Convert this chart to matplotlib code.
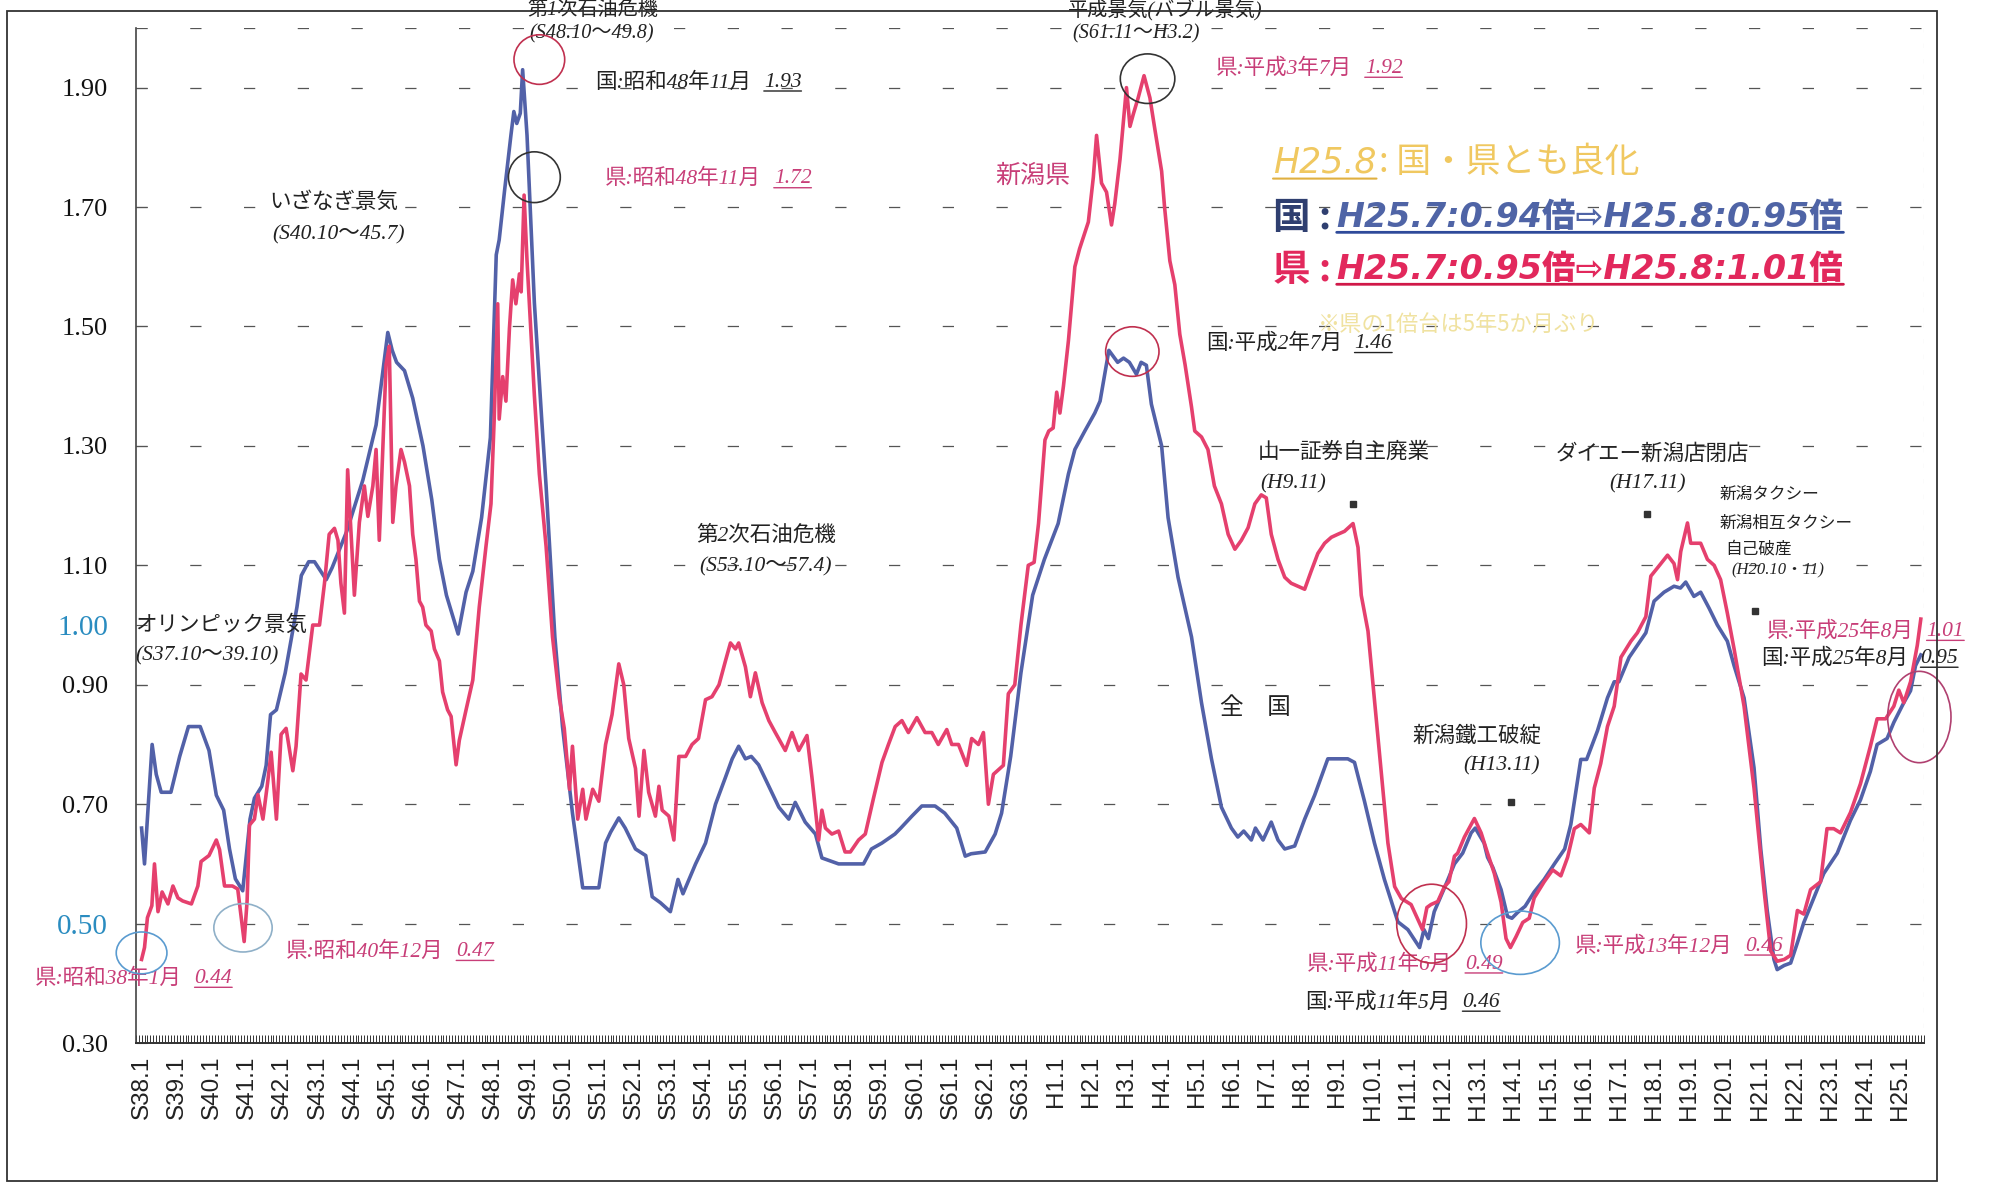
import matplotlib
matplotlib.use("Agg")
import matplotlib.pyplot as plt
from matplotlib.patches import Ellipse, Rectangle
from matplotlib.ticker import MultipleLocator

plt.rcParams['font.family'] = ['Liberation Serif', 'Noto Sans CJK JP']

# ---------------- data (x = months since S38.1 = Jan 1963) ----------------
nat_month = [0, 1, 3.6, 5, 6.7, 10, 13, 16, 20, 23, 25.5, 28, 30, 32, 34.5, 37, 38.5, 41, 42.5, 44,
             46, 49, 53, 54.5, 57, 59, 63, 65, 70, 75.5, 80, 84, 85.5, 87, 89.7, 92.5, 96, 99, 101.6, 104,
             108, 110.7, 113, 116, 119, 121, 122, 123.8, 126, 127, 128, 129.2, 130, 131.5, 134, 136.5, 138, 141, 143.6, 147,
             150.5, 156, 158.3, 160, 162.8, 165, 168.5, 172, 174.2, 177, 180.4, 183, 184.7, 189, 192.4, 195.8, 199.2, 201.5, 203.7, 206,
             208, 210.5, 214, 217.4, 220.8, 223, 226.4, 229.9, 232.1, 237.8, 242.3, 246.3, 249, 252.6, 257, 259, 262.8, 266.2, 270.7, 274,
             278.1, 281, 283, 287.8, 291.2, 293.4, 296.5, 300, 304, 308, 312.7, 316.2, 318.4, 321.8, 325.2, 327, 330, 331.5, 333, 335,
             337, 339.4, 341, 342.8, 344.5, 348, 350.2, 353.6, 358.2, 361.6, 365, 368.4, 371.8, 374, 376, 378.6, 380, 382.6, 385.4, 387.7,
             390, 393.4, 396.8, 400.2, 404.7, 411.5, 413.8, 417.2, 420.6, 424, 428.6, 432, 434, 436, 437.5, 439, 441, 444.5, 447.9, 450.7,
             453.6, 455, 458, 459.2, 461, 463.8, 466, 467.5, 469.5, 472, 475.1, 478.5, 482, 485.5, 487.6, 491, 493, 496.7, 500.1, 502.4,
             504, 507.5, 510.3, 513.2, 516, 519.4, 522.8, 525, 526.8, 529.6, 531.9, 534.8, 537.6, 541, 543.3, 546.7, 550.1, 552.4, 554.6, 556.9,
             558, 560.4, 562.6, 564.9, 567.1, 570.5, 573.9, 578.5, 583, 586.4, 589.8, 592.1, 595.5, 597.8, 601.2, 603.5, 605.2, 607]
nat_ratio = [0.66, 0.60, 0.80, 0.75, 0.72, 0.72, 0.78, 0.83, 0.83, 0.79, 0.715, 0.69, 0.625, 0.575, 0.555, 0.675, 0.71, 0.73, 0.765, 0.85,
             0.858, 0.92, 1.03, 1.083, 1.106, 1.106, 1.076, 1.096, 1.157, 1.243, 1.335, 1.49, 1.46, 1.44, 1.426, 1.38, 1.30, 1.21, 1.11, 1.05,
             0.985, 1.055, 1.09, 1.18, 1.314, 1.62, 1.645, 1.726, 1.82, 1.86, 1.84, 1.857, 1.93, 1.82, 1.54, 1.345, 1.233, 0.98, 0.83, 0.685,
             0.56, 0.56, 0.635, 0.653, 0.677, 0.66, 0.625, 0.614, 0.545, 0.535, 0.52, 0.574, 0.55, 0.60, 0.635, 0.70, 0.745, 0.776, 0.797, 0.776,
             0.78, 0.766, 0.73, 0.695, 0.675, 0.703, 0.67, 0.65, 0.61, 0.60, 0.60, 0.60, 0.625, 0.635, 0.65, 0.66, 0.68, 0.697, 0.697, 0.685,
             0.66, 0.613, 0.617, 0.62, 0.65, 0.685, 0.78, 0.92, 1.05, 1.11, 1.17, 1.253, 1.294, 1.325, 1.355, 1.375, 1.46, 1.45, 1.44, 1.447,
             1.44, 1.42, 1.44, 1.435, 1.37, 1.30, 1.18, 1.08, 0.98, 0.87, 0.776, 0.695, 0.66, 0.645, 0.655, 0.64, 0.66, 0.64, 0.67, 0.64,
             0.625, 0.63, 0.675, 0.715, 0.776, 0.776, 0.77, 0.705, 0.635, 0.574, 0.503, 0.49, 0.475, 0.46, 0.49, 0.475, 0.52, 0.56, 0.60, 0.618,
             0.652, 0.66, 0.635, 0.611, 0.594, 0.557, 0.512, 0.509, 0.519, 0.529, 0.553, 0.574, 0.60, 0.625, 0.666, 0.775, 0.775, 0.823, 0.878, 0.905,
             0.905, 0.946, 0.966, 0.987, 1.04, 1.055, 1.065, 1.062, 1.072, 1.048, 1.055, 1.028, 1.00, 0.973, 0.932, 0.878, 0.761, 0.625, 0.522, 0.44,
             0.423, 0.43, 0.434, 0.468, 0.502, 0.543, 0.584, 0.618, 0.673, 0.707, 0.755, 0.80, 0.81, 0.837, 0.87, 0.89, 0.932, 0.95]

pref_month = [0, 1, 2, 3.5, 4.4, 5.6, 7, 9, 10.7, 12.4, 14, 17, 19.2, 20.3, 23, 25.5, 26.6, 28.3, 31, 32.8,
              35, 36, 36.8, 38.5, 39.7, 41.4, 43, 44.2, 46, 47.6, 49.3, 51.6, 52.7, 54.4, 56.1, 58.4, 60.7, 62.4, 64, 65.8,
              67, 68, 69.2, 70.3, 71.5, 72.6, 74.3, 76, 77.2, 78.9, 80, 81.1, 82.3, 83.4, 84.5, 85.7, 86.8, 88.5, 89.7, 91.4,
              92.5, 93.6, 94.8, 95.9, 97, 98.8, 99.9, 101.6, 102.7, 104.4, 105.6, 107.3, 108.4, 110.7, 113, 115.2, 117.5, 119.2, 120.3, 121.5,
              122, 123.2, 124.3, 125.5, 126.6, 127.7, 128.9, 129.5, 130.5, 131.5, 134, 135.7, 138, 140.2, 142.5, 144.2, 146, 147, 148.8, 150.5,
              151.6, 153.9, 156, 158.3, 160.5, 162.8, 164.5, 166.2, 168.5, 169.7, 171.4, 173, 175.3, 176.5, 177.6, 179.9, 181.6, 183.3, 185.6, 187.8,
              190, 192.4, 194.6, 197, 199.2, 200.9, 202.6, 203.7, 206, 207.7, 209.4, 211.7, 214, 216.2, 219.6, 221.9, 224.2, 227, 228.7, 231,
              232.1, 233.3, 235.5, 237.8, 240, 241.8, 244.6, 246.9, 249.7, 252.6, 254.8, 257.1, 259.4, 261.6, 264.5, 267.3, 269.6, 271.8, 274.7, 276.4,
              278.7, 281.5, 283.2, 285.5, 287.2, 288.9, 290.6, 294, 295.7, 297.9, 300, 302.5, 304.5, 306, 308.2, 309.5, 311, 312.2, 313.3, 314.5,
              316.2, 318.4, 320, 323, 324.7, 325.8, 327.5, 329.2, 330.9, 332, 333.8, 335.5, 336, 337.2, 338.3, 340, 342, 344, 345.7, 348,
              349, 350.8, 352.5, 354.2, 356, 358.2, 359.3, 361.6, 363.8, 366, 368.4, 370.7, 373, 375.2, 377.5, 379.8, 382, 383.7, 385.4, 387.7,
              390, 392.2, 394.5, 396.8, 399, 401.3, 403.6, 405.9, 408.1, 410.4, 413.3, 415, 416.1, 418.4, 420.6, 422.9, 425.2, 427.5, 429.8, 433.1,
              437, 438.5, 439.9, 442.2, 444.5, 446, 447.9, 449, 451.3, 454.7, 457, 459.2, 461.5, 463.8, 465.5, 467, 468.9, 471.2, 473.4, 475.1,
              478.5, 481.4, 484.2, 486.5, 488.8, 491, 493.9, 495.6, 497.8, 500.1, 502.4, 504.7, 508.1, 510.3, 513.2, 514.9, 517.2, 520.6, 522.8, 524,
              525.1, 527.4, 528.5, 531.9, 534.2, 536.5, 538.7, 541, 543.3, 546.7, 550.1, 553.5, 555.8, 558, 560.4, 562.6, 564.9, 567.1, 569.4, 572.8,
              575, 577.3, 579.6, 583, 586.4, 589.8, 592.1, 595, 597.8, 599.5, 601.2, 603.5, 605.8, 607]
pref_ratio = [0.44, 0.46, 0.51, 0.53, 0.60, 0.52, 0.553, 0.533, 0.563, 0.543, 0.538, 0.533, 0.563, 0.604, 0.614, 0.64, 0.624, 0.563, 0.563, 0.558,
              0.47, 0.538, 0.665, 0.675, 0.716, 0.675, 0.736, 0.787, 0.675, 0.817, 0.827, 0.756, 0.797, 0.918, 0.908, 1.0, 1.0, 1.07, 1.152, 1.162,
              1.142, 1.07, 1.02, 1.26, 1.152, 1.05, 1.172, 1.233, 1.182, 1.233, 1.294, 1.142, 1.294, 1.436, 1.467, 1.172, 1.233, 1.294, 1.273, 1.233,
              1.152, 1.11, 1.04, 1.03, 1.0, 0.99, 0.96, 0.94, 0.888, 0.858, 0.847, 0.766, 0.807, 0.858, 0.908, 1.03, 1.132, 1.203, 1.345, 1.538,
              1.345, 1.416, 1.375, 1.497, 1.578, 1.538, 1.588, 1.558, 1.72, 1.61, 1.385, 1.253, 1.132, 0.98, 0.878, 0.827, 0.725, 0.797, 0.675, 0.725,
              0.675, 0.725, 0.705, 0.80, 0.85, 0.935, 0.90, 0.81, 0.76, 0.68, 0.79, 0.72, 0.68, 0.73, 0.69, 0.68, 0.64, 0.78, 0.78, 0.80,
              0.81, 0.875, 0.88, 0.90, 0.94, 0.97, 0.96, 0.97, 0.93, 0.88, 0.92, 0.87, 0.84, 0.82, 0.79, 0.82, 0.79, 0.815, 0.745, 0.64,
              0.69, 0.66, 0.65, 0.655, 0.62, 0.62, 0.64, 0.65, 0.71, 0.77, 0.80, 0.83, 0.84, 0.82, 0.845, 0.82, 0.82, 0.80, 0.825, 0.80,
              0.80, 0.765, 0.81, 0.80, 0.82, 0.70, 0.75, 0.765, 0.885, 0.90, 1.0, 1.10, 1.105, 1.17, 1.31, 1.325, 1.33, 1.39, 1.355, 1.40,
              1.476, 1.60, 1.63, 1.675, 1.75, 1.82, 1.74, 1.725, 1.67, 1.705, 1.78, 1.873, 1.90, 1.835, 1.855, 1.883, 1.92, 1.883, 1.83, 1.76,
              1.70, 1.61, 1.57, 1.487, 1.436, 1.365, 1.325, 1.315, 1.294, 1.233, 1.203, 1.152, 1.127, 1.142, 1.163, 1.203, 1.218, 1.213, 1.152, 1.11,
              1.08, 1.07, 1.065, 1.06, 1.09, 1.12, 1.137, 1.147, 1.152, 1.157, 1.17, 1.13, 1.05, 0.99, 0.876, 0.755, 0.635, 0.562, 0.542, 0.532,
              0.49, 0.527, 0.532, 0.537, 0.562, 0.57, 0.613, 0.618, 0.645, 0.676, 0.652, 0.618, 0.584, 0.536, 0.475, 0.46, 0.478, 0.502, 0.509, 0.543,
              0.57, 0.59, 0.58, 0.611, 0.659, 0.666, 0.652, 0.727, 0.768, 0.83, 0.864, 0.946, 0.973, 0.987, 1.014, 1.082, 1.096, 1.117, 1.103, 1.076,
              1.123, 1.171, 1.137, 1.137, 1.11, 1.10, 1.076, 1.02, 0.96, 0.864, 0.727, 0.557, 0.454, 0.437, 0.44, 0.447, 0.522, 0.516, 0.557, 0.57,
              0.659, 0.659, 0.652, 0.686, 0.734, 0.797, 0.843, 0.843, 0.864, 0.891, 0.87, 0.905, 0.966, 1.01]

tick_months = list(range(0, 601, 12))
tick_labels = ["S%d.1" % y for y in range(38, 64)] + ["H%d.1" % y for y in range(1, 26)]
y_ticks = [0.30, 0.50, 0.70, 0.90, 1.00, 1.10, 1.30, 1.50, 1.70, 1.90]
y_labels = ["0.30", "0.50", "0.70", "0.90", "1.00", "1.10", "1.30", "1.50", "1.70", "1.90"]
blue_y_labels = ["0.50", "1.00"]
grid_levels = [0.5, 0.7, 0.9, 1.1, 1.3, 1.5, 1.7, 1.9, 2.0]

# ---------------- styles ----------------
C_NAT = '#5261a8'
C_PREF = '#e5406e'
C_PINK = '#c83e78'
C_BLACK = '#222222'
C_GOLD = '#f0c860'
C_TICKBLUE = '#2a8cc0'

fig = plt.figure(figsize=(19.9, 11.83), dpi=100)
fig.patch.set_facecolor('white')
ax = fig.add_axes([0.0682, 0.1183, 0.8985, 0.8581])
ax.set_xlim(-2, 608)
ax.set_ylim(0.30, 2.00)

# page border
fig.add_artist(Rectangle((0.0035, 0.002), 0.97, 0.9885, transform=fig.transFigure,
                         fill=False, edgecolor='#333333', linewidth=1.3))

for lv in grid_levels:
    ax.axhline(lv, color='#555555', linewidth=0.9, linestyle=(0, (9, 34)), zorder=1)
ax.axvline(608, color='#bbbbbb', linewidth=0.8, linestyle=(0, (4, 10)), zorder=1)

ax.plot(nat_month, nat_ratio, color=C_NAT, linewidth=2.6, zorder=3, solid_joinstyle='round')
ax.plot(pref_month, pref_ratio, color=C_PREF, linewidth=2.6, zorder=4, solid_joinstyle='round')

for s in ['top', 'right']:
    ax.spines[s].set_visible(False)
ax.spines['left'].set_color('#444444')
ax.spines['bottom'].set_color('#333333')
ax.spines['left'].set_linewidth(1.2)
ax.spines['bottom'].set_linewidth(1.4)

ax.set_xticks(tick_months)
ax.set_xticklabels(tick_labels, rotation=90, fontsize=17.5, family=['Liberation Sans'], color='#222222')
ax.xaxis.set_minor_locator(MultipleLocator(1))
ax.tick_params(axis='x', which='both', direction='in', length=6, width=0.7, color='#333333', pad=9)
ax.set_yticks(y_ticks)
ax.set_yticklabels(y_labels, fontsize=19, color='#111111')
ax.tick_params(axis='y', direction='in', length=8, width=0.8, color='#555555', pad=20)
for lab in ax.get_yticklabels():
    if lab.get_text() in blue_y_labels:
        lab.set_color(C_TICKBLUE)
        lab.set_fontsize(21)

# ---------------- annotations ----------------
def note(x, y, text, color=C_BLACK, size=15.5, style='italic', ha='left'):
    return ax.text(x, y, text, color=color, fontsize=size, style=style, ha=ha, va='center',
                   clip_on=False, zorder=6)

def value_note(x, y, head, num, color, size=15.5, gap=9):
    t = note(x, y, head, color, size)
    n = ax.annotate(num, xy=(1, 0.5), xycoords=t, xytext=(gap, 0), textcoords='offset points',
                    ha='left', va='center', color=color, fontsize=size, style='italic',
                    annotation_clip=False, zorder=6)
    ax.annotate('', xy=(1, 0.04), xycoords=n, xytext=(0, 0.04), textcoords=n,
                arrowprops=dict(arrowstyle='-', color=color, lw=1.0, shrinkA=0, shrinkB=0),
                annotation_clip=False)
    return n

note(153.9, 2.030, "第1次石油危機", ha='center', size=14.5)
note(153.5, 1.990, "(S48.10～49.8)", ha='center', size=14.5)
note(349.3, 2.030, "平成景気(バブル景気)", ha='center', size=14.5)
note(339.3, 1.990, "(S61.11～H3.2)", ha='center', size=14.5)
note(43.7, 1.707, "いざなぎ景気")
note(44.5, 1.654, "(S40.10～45.7)")
note(-2.2, 0.999, "オリンピック景気")
note(-2.2, 0.948, "(S37.10～39.10)")
note(189.3, 1.150, "第2次石油危機")
note(190.2, 1.097, "(S53.10～57.4)")
note(380.8, 1.288, "山一証券自主廃業")
note(381.7, 1.237, "(H9.11)")
note(482.4, 1.286, "ダイエー新潟店閉店")
note(500.6, 1.237, "(H17.11)")
note(538.2, 1.218, "新潟タクシー", size=12)
note(538.2, 1.169, "新潟相互タクシー", size=12)
note(540.4, 1.127, "自己破産", size=12)
note(542.5, 1.091, "(H20.10・11)", size=12)
note(433.6, 0.814, "新潟鐵工破綻")
note(450.9, 0.765, "(H13.11)")
note(291.4, 1.752, "新潟県", color=C_PINK, size=18, style='normal')
note(367.9, 0.861, "全　国", size=17, style='normal')

value_note(154.8, 1.909, "国:昭和48年11月", "1.93", C_BLACK)
value_note(158.2, 1.747, "県:昭和48年11月", "1.72", C_PINK)
value_note(366.6, 1.932, "県:平成3年7月", "1.92", C_PINK)
value_note(363.1, 1.471, "国:平成2年7月", "1.46", C_BLACK)
value_note(554.6, 0.989, "県:平成25年8月", "1.01", C_PINK)
value_note(552.5, 0.944, "国:平成25年8月", "0.95", C_BLACK)
value_note(-36.3, 0.408, "県:昭和38年1月", "0.44", C_PINK)
value_note(49.3, 0.453, "県:昭和40年12月", "0.47", C_PINK)
value_note(397.7, 0.432, "県:平成11年6月", "0.49", C_PINK)
value_note(396.8, 0.368, "国:平成11年5月", "0.46", C_BLACK)
value_note(488.9, 0.462, "県:平成13年12月", "0.46", C_PINK)

# small square markers
for mx, my in [(413.3, 1.203), (513.5, 1.186), (467.3, 0.704), (550.3, 1.023)]:
    ax.plot([mx], [my], marker='s', markersize=5, color='#333333', linestyle='none', zorder=6, clip_on=False)

# highlight box text
h = ax.text(386.0, 1.775, "H25.8", color=C_GOLD, fontsize=25, style='italic',
            family=['DejaVu Sans'], ha='left', va='center', zorder=6)
ax.annotate('', xy=(1, 0.02), xycoords=h, xytext=(0, 0.02), textcoords=h,
            arrowprops=dict(arrowstyle='-', color='#e0b040', lw=1.5, shrinkA=0, shrinkB=0))
ax.annotate(": 国・県とも良化", xy=(1, 0.5), xycoords=h, xytext=(2, 0), textcoords='offset points',
            ha='left', va='center', color=C_GOLD, fontsize=25, family=['Noto Sans CJK JP'])

def big_line(y, head, body, color, head_color, ucolor):
    t = ax.text(386.0, y, head, color=head_color, fontsize=27, weight='bold',
                family=['Noto Sans CJK JP'], ha='left', va='center', zorder=6)
    b = ax.annotate(body, xy=(1, 0.5), xycoords=t, xytext=(4, 0), textcoords='offset points',
                    ha='left', va='center', color=color, fontsize=24, weight='heavy', style='italic',
                    family=['DejaVu Sans', 'Noto Sans CJK JP'], zorder=6)
    ax.annotate('', xy=(1, 0.06), xycoords=b, xytext=(0, 0.06), textcoords=b,
                arrowprops=dict(arrowstyle='-', color=ucolor, lw=2.0, shrinkA=0, shrinkB=0))

big_line(1.682, "国 :", "H25.7:0.94倍⇨H25.8:0.95倍", '#4f64a6', '#2f3f70', '#2e4a9a')
big_line(1.595, "県 :", "H25.7:0.95倍⇨H25.8:1.01倍", '#e2285c', '#e2285c', '#d01848')
ax.text(401.2, 1.503, "※県の1倍台は5年5か月ぶり", color='#f0e2a0', fontsize=16,
        family=['Noto Sans CJK JP'], ha='left', va='center', zorder=6)

# circles around extreme points
circles = [((135.7, 1.947), 17.3, 0.083, '#c0304f'),
           ((134.0, 1.750), 17.7, 0.085, '#333333'),
           ((343.2, 1.915), 18.6, 0.083, '#333333'),
           ((338.0, 1.458), 18.2, 0.083, '#c0304f'),
           ((440.1, 0.500), 23.8, 0.132, '#c0304f'),
           ((470.3, 0.468), 26.8, 0.106, '#5a9bd0'),
           ((0.0, 0.451), 17.3, 0.070, '#5a9bd0'),
           ((34.6, 0.493), 19.9, 0.081, '#8fb0c8'),
           ((606.5, 0.846), 21.6, 0.153, '#b04070')]
for (cx, cy), w, hgt, col in circles:
    ax.add_patch(Ellipse((cx, cy), w, hgt, fill=False, edgecolor=col, linewidth=1.2,
                         zorder=7, clip_on=False))

fig.savefig("out.png", dpi=100, facecolor='white')
